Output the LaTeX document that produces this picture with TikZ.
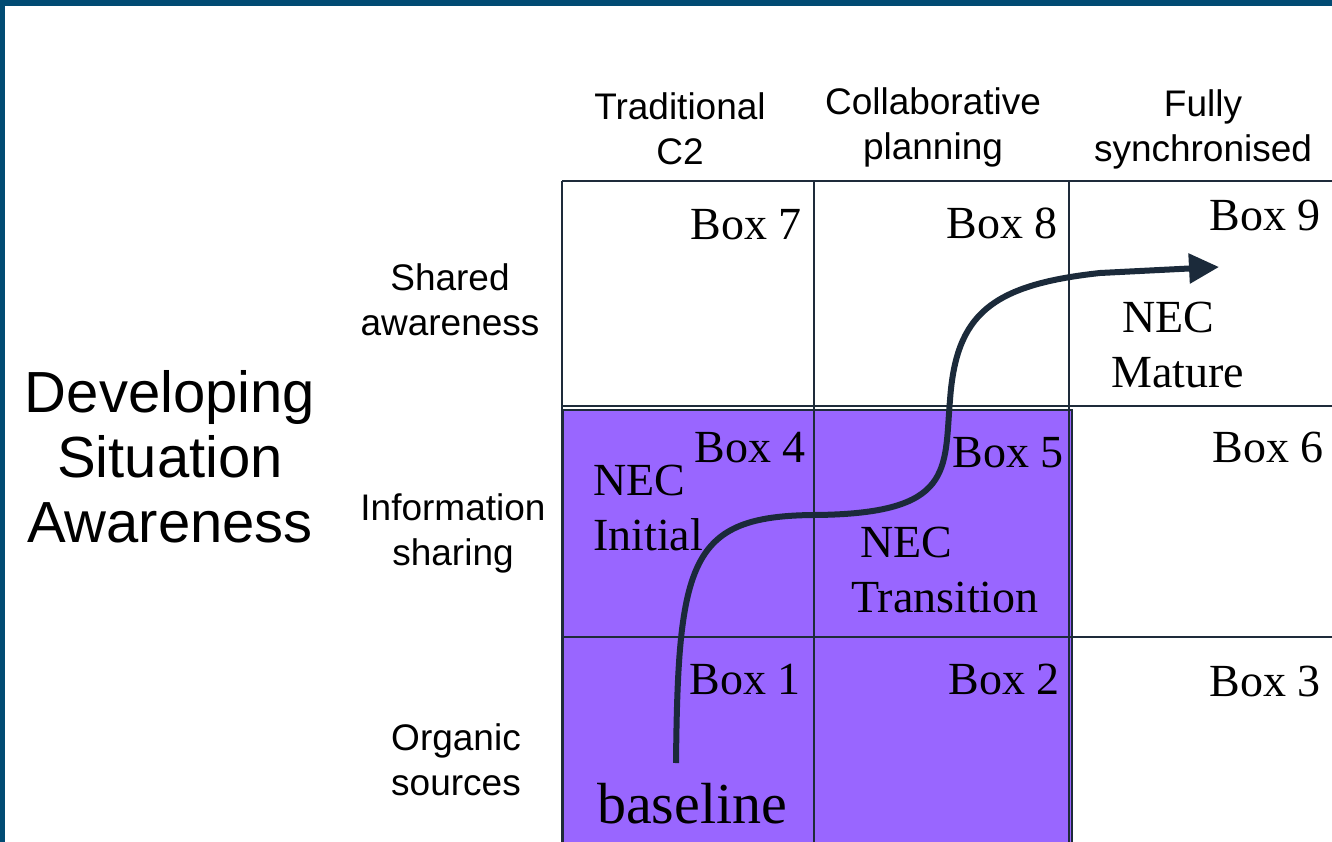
\documentclass[tikz,border=0pt]{standalone}
\usepackage{fontspec}
\setmainfont{Liberation Serif}
\setsansfont{Liberation Sans}
\usetikzlibrary{arrows.meta}
\definecolor{frame}{HTML}{014B73}
\definecolor{gridc}{HTML}{1E2B3A}
\definecolor{purp}{HTML}{9966FF}
\definecolor{curvec}{HTML}{1B2A3A}
\tikzset{
  head/.style={font=\sffamily\fontsize{37}{45}\selectfont, align=center, inner sep=0pt},
  big/.style={font=\sffamily\fontsize{58}{65}\selectfont, align=center, inner sep=0pt},
  boxlbl/.style={font=\fontsize{46}{55}\selectfont, anchor=base east, inner sep=0pt},
  neclbl/.style={font=\fontsize{46}{55}\selectfont, align=left, inner sep=0pt},
  gridline/.style={draw=gridc, line width=2pt},
}
\begin{document}
\begin{tikzpicture}[x=1pt,y=-1pt]
\useasboundingbox (0,0) rectangle (1332,842);
\fill[white] (0,0) rectangle (1332,842);
% frame bands
\fill[frame] (0,0) rectangle (1332,6);
\fill[frame] (0,0) rectangle (4.5,842);
% purple area
\filldraw[fill=purp, draw=gridc, line width=1.2pt] (563,410) rectangle (1072,850);
% grid
\draw[gridline] (562,181) -- (562,850);
\draw[gridline] (814,181) -- (814,850);
\draw[gridline] (1069,181) -- (1069,850);
\draw[gridline] (562,181) -- (1340,181);
\draw[gridline] (562,406) -- (1340,406);
\draw[gridline] (562,637) -- (1340,637);
% column headers
\node[head] (h1) at (680,129) {Traditional\\C2};
\node[head] (h2) at (933,127) {Collaborative\\planning};
\node[head] (h3) at (1203,129) {Fully\\synchronised};
% row headers
\node[head] (r3) at (450,300) {Shared\\awareness};
\node[head] (r2) at (453,533) {Information\\sharing};
\node[head] (r1) at (456,760) {Organic\\sources};
\node[big] (dsa) at (170,457) {Developing\\Situation\\Awareness};
% box labels
\node[boxlbl] (b7) at (802,240) {Box 7};
\node[boxlbl] (b8) at (1058,239) {Box 8};
\node[boxlbl] (b9) at (1321,231) {Box 9};
\node[boxlbl] (b4) at (806,462) {Box 4};
\node[boxlbl] (b5) at (1064,467) {Box 5};
\node[boxlbl] (b6) at (1324,462) {Box 6};
\node[boxlbl] (b1) at (801,694) {Box 1};
\node[boxlbl] (b2) at (1060,694) {Box 2};
\node[boxlbl] (b3) at (1321,696) {Box 3};
% NEC labels
\node[neclbl, anchor=north west] (necI) at (593,465) {NEC\\Initial};
\node[neclbl, anchor=north west] (necT) at (851,527) {\hspace*{9pt}NEC\\Transition};
\node[neclbl, anchor=north west] (necM) at (1111,302) {\hspace*{11pt}NEC\\Mature};
\node[font=\fontsize{58}{65}\selectfont, anchor=base west, inner sep=0pt] (bl) at (597,823) {baseline};
% curve
\coordinate (cstart) at (676,763);
\coordinate (cend) at (1219,267);
\draw[curvec, line width=6pt, -{Triangle[length=30pt,width=29pt]}]
  (cstart) .. controls (678,560) and (690,516) .. (814,515)
  .. controls (955,514) and (944,470) .. (950,400)
  .. controls (956,315) and (990,285) .. (1100,273)
  -- (cend);
\end{tikzpicture}
\end{document}
